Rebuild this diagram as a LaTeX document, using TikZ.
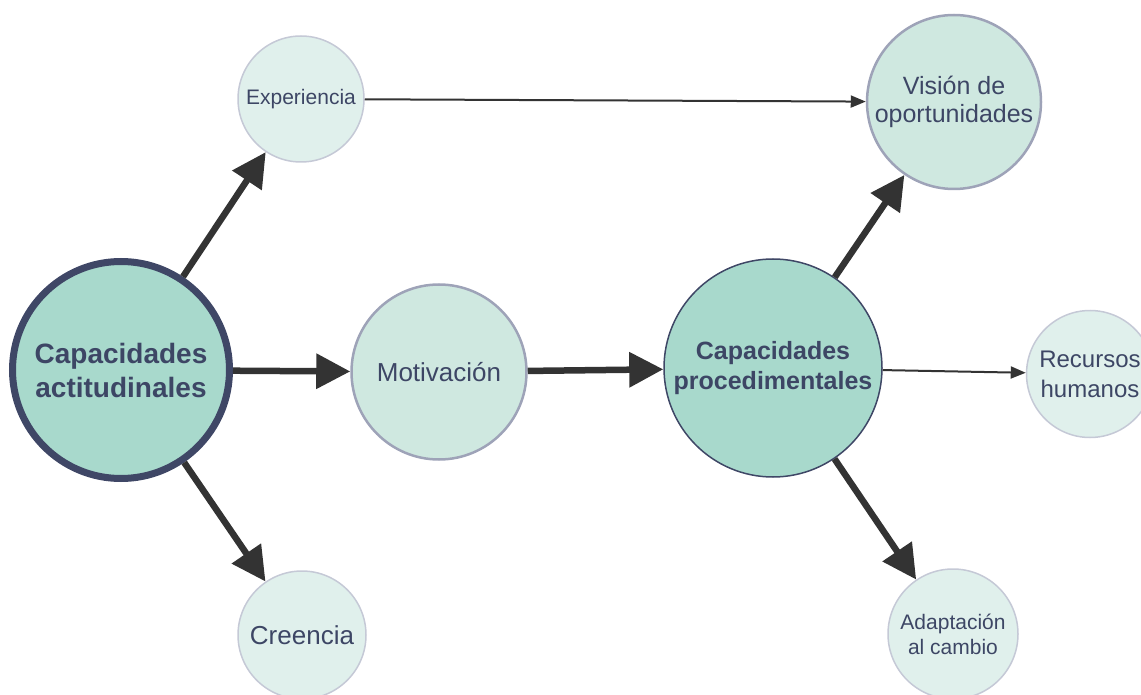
\documentclass[tikz,border=0pt]{standalone}
\usepackage{fontspec}
\setmainfont{Liberation Sans}
\usetikzlibrary{arrows.meta}
\definecolor{txt}{HTML}{3D4665}
\definecolor{navy}{HTML}{3F4766}
\definecolor{bigfill}{HTML}{A8D9CC}
\definecolor{midfill}{HTML}{CFE8E0}
\definecolor{lightfill}{HTML}{E0F0EC}
\definecolor{grayedge}{HTML}{9EA3B8}
\definecolor{lightedge}{HTML}{C5C9D6}
\definecolor{arr}{HTML}{333333}
\begin{document}
\begin{tikzpicture}[x=1pt,y=-1pt,
  circ/.style={circle, inner sep=0pt, text=txt, align=center},
  mainc/.style={circ, fill=bigfill, draw=navy},
  midc/.style={circ, fill=midfill, draw=grayedge, line width=2.5pt},
  smallc/.style={circ, fill=lightfill, draw=lightedge, line width=1.5pt},
  thickarr/.style={draw=arr, line width=6.5pt, -{Triangle[length=34pt,width=34pt]}},
  thinarr/.style={draw=arr, line width=2pt, -{Triangle[length=15pt,width=12pt]}}]
\useasboundingbox (0,0) rectangle (1141,695);
\node[mainc, line width=7pt, minimum size=217pt, font=\fontsize{28}{34}\selectfont\bfseries] (act) at (121,370) {Capacidades\\actitudinales};
\node[smallc, minimum size=126pt, font=\fontsize{21}{25}\selectfont] (exp) at (301,99) {Experiencia};
\node[smallc, minimum size=128pt, font=\fontsize{26}{30}\selectfont] (cre) at (302,635) {Creencia};
\node[midc, minimum size=175pt, font=\fontsize{26}{30}\selectfont] (mot) at (439,372) {Motivación};
\node[mainc, line width=1.5pt, minimum size=218pt, font=\fontsize{25}{30}\selectfont\bfseries] (proc) at (773,368) {Capacidades\\procedimentales};
\node[midc, minimum size=174pt, font=\fontsize{25}{28}\selectfont] (vis) at (954,102) {Visión de\\oportunidades};
\node[smallc, minimum size=127pt, font=\fontsize{24}{30}\selectfont] (rec) at (1090,374) {Recursos\\humanos};
\node[smallc, minimum size=130pt, font=\fontsize{21}{25}\selectfont] (ada) at (953,634) {Adaptación\\al cambio};
\draw[thickarr] (act) -- (exp);
\draw[thickarr] (act) -- (mot);
\draw[thickarr] (act) -- (cre);
\draw[thickarr] (mot) -- (proc);
\draw[thickarr] (proc) -- (vis);
\draw[thickarr] (proc) -- (ada);
\draw[thinarr] (exp) -- (vis);
\draw[thinarr] (proc) -- (rec);
\end{tikzpicture}
\end{document}
